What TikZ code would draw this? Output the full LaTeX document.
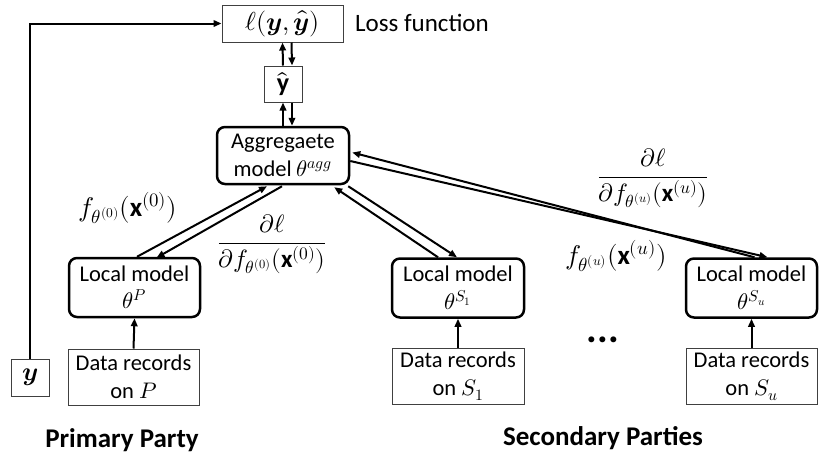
\documentclass[tikz,border=0pt]{standalone}
\usepackage{amsmath}
\usepackage{fontspec}
\usepackage{unicode-math}
\setmainfont{Carlito}
\setmathfont{Latin Modern Math}
\usetikzlibrary{arrows.meta}
\tikzset{
  thinbox/.style={draw=black!75, line width=1pt, minimum width=#1, inner sep=0pt, align=center},
  modelbox/.style={draw=black, line width=2.5pt, rounded corners=8pt, inner sep=0pt, align=center},
  arr/.style={line width=2pt, -{Triangle[length=8pt,width=6.5pt]}},
  lbl/.style={inner sep=0pt},
  mlbl/.style={inner sep=0pt, font=\fontsize{25}{28}\selectfont},
  flbl/.style={inner sep=0pt, font=\fontsize{27}{28}\selectfont},
}
\begin{document}
\begin{tikzpicture}[x=1pt,y=-1pt,font=\fontsize{22.5}{27.5}\selectfont]
\useasboundingbox (0,0) rectangle (822,459);
% nodes
\node[thinbox=121pt, minimum height=37pt, font=\fontsize{26}{28}\selectfont] (loss) at (282.5,23.5) {$\ell(\symbfit{y},\widehat{\symbfit{y}})$};
\node[lbl, anchor=west, font=\fontsize{25}{28}\selectfont] (losslbl) at (355,23) {Loss function};
\node[thinbox=38pt, minimum height=36pt, font=\fontsize{26}{28}\selectfont] (yhat) at (283,84) {$\hat{\mathbf{y}}$};
\node[modelbox, minimum width=132pt, minimum height=57pt] (agg) at (283,155.5) {Aggregaete\\model $\theta^{agg}$};
\node[modelbox, minimum width=131pt, minimum height=59pt] (lp) at (134.5,287.5) {Local model\\$\theta^{P}$};
\node[modelbox, minimum width=132pt, minimum height=59pt] (ls1) at (458,288) {Local model\\$\theta^{S_1}$};
\node[modelbox, minimum width=131pt, minimum height=59pt] (lsu) at (751.5,288) {Local model\\$\theta^{S_u}$};
\node[thinbox=131pt, minimum height=56pt] (dp) at (133.5,377) {Data records\\on $P$};
\node[thinbox=132pt, minimum height=56pt] (ds1) at (458,376.5) {Data records\\on $S_1$};
\node[thinbox=131pt, minimum height=56pt] (dsu) at (751.5,376.5) {Data records\\on $S_u$};
\node[thinbox=38pt, minimum height=37pt, font=\fontsize{26}{28}\selectfont] (ybox) at (30,377.5) {$\symbfit{y}$};
\node[lbl, font=\fontsize{40}{40}\selectfont\bfseries] (dots) at (603,340) {...};
\node[lbl, font=\fontsize{27}{30}\selectfont\bfseries] (prim) at (122,440) {Primary Party};
\node[lbl, font=\fontsize{27}{30}\selectfont\bfseries] (sec) at (603,438) {Secondary Parties};
% labels
\node[flbl] (f0) at (128,208) {$f_{\theta^{(0)}}(\mathbf{x}^{(0)})$};
\node[mlbl] (g0) at (272,244) {$\dfrac{\partial\ell}{\partial f_{\theta^{(0)}}(\mathbf{x}^{(0)})}$};
\node[mlbl] (gu) at (653,178) {$\dfrac{\partial\ell}{\partial f_{\theta^{(u)}}(\mathbf{x}^{(u)})}$};
\node[flbl] (fu) at (616,256) {$f_{\theta^{(u)}}(\mathbf{x}^{(u)})$};
% connectors
\draw[arr] (ybox.north) |- (loss.west);
\draw[arr] (yhat.north) -- (loss.south);
\draw[arr] ([xshift=9pt]loss.south) -- ([xshift=9pt]yhat.north);
\draw[arr] (agg.north) -- (yhat.south);
\draw[arr] ([xshift=9pt]yhat.south) -- ([xshift=9pt]agg.north);
\draw[arr] ([xshift=2.5pt]lp.north) -- ([xshift=-16pt,yshift=-1pt]agg.south);
\draw[arr] ([xshift=-1pt,yshift=-1pt]agg.south) -- ([xshift=22pt,yshift=-1pt]lp.north);
\draw[arr] ([xshift=-20pt]ls1.north) -- ([xshift=-16pt,yshift=-2pt]agg.south east);
\draw[arr] ([xshift=-2pt,yshift=-1pt]agg.south east) -- ([xshift=-1pt]ls1.north);
\draw[arr] ([yshift=-5.5pt]agg.east) -- ([xshift=16pt]lsu.north);
\draw[arr] ([xshift=3pt]lsu.north) -- ([xshift=2pt,yshift=3pt]agg.east);
\draw[arr] (dp.north) -- (lp.south);
\draw[arr] (ds1.north) -- (ls1.south);
\draw[arr] (dsu.north) -- (lsu.south);
\end{tikzpicture}
\end{document}
